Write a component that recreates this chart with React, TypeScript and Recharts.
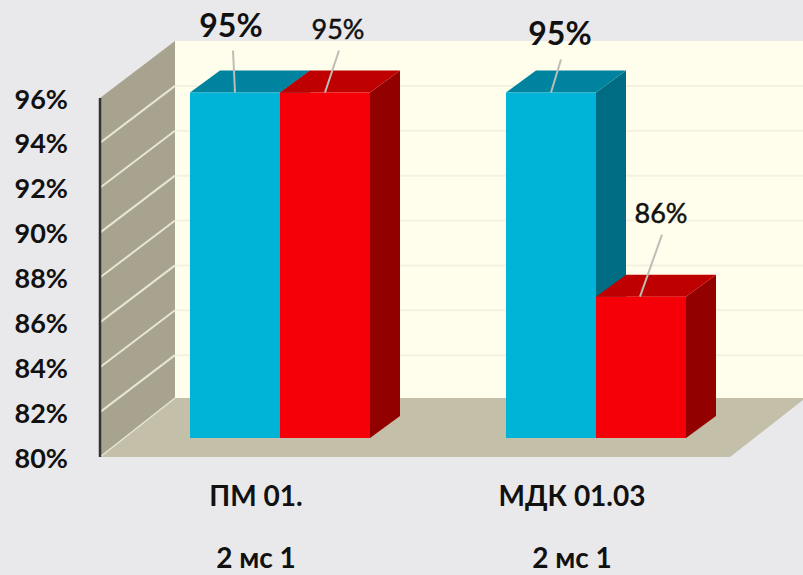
import { BarChart, Bar, XAxis, YAxis, CartesianGrid } from "recharts";

const categories = ["ПМ 01.", "МДК 01.03"];
const subLabels = ["2 мс 1", "2 мс 1"];
const blueValues = [95.4, 95.4];
const redValues = [95.4, 86.3];
const blueLabels = ["95%", "95%"];
const redLabels = ["95%", "86%"];
const yTicks = [80, 82, 84, 86, 88, 90, 92, 94, 96];

const data = categories.map((name, i) => ({ name, blue: blueValues[i], red: redValues[i] }));

const FONT = "Lato, Carlito, sans-serif";
const TEXT = "#111";

// fake 3D: back wall sits up and to the right of the axis plane, bars halfway
const WALL_DX = 75;
const WALL_DY = 57;
const BAR_LIFT = 19;
const BAR_DX = 30;
const BAR_DY = 22;

// label placement relative to the bar's front top centre
const blueLabelPos = [
  { tx: -4, ty: -55, x1: -2, y1: -42, x2: 0, y2: 0 },
  { tx: 9, ty: -47, x1: 10, y1: -33, x2: 0, y2: 0 },
];
const redLabelPos = [
  { tx: 13, ty: -53, x1: 14, y1: -42, x2: 0, y2: 0 },
  { tx: 20, ty: -74, x1: 21, y1: -62, x2: -1, y2: 0 },
];

function Walls() {
  return (
    <g>
      <polygon points="175,41 803,41 803,400 175,400" fill="#FFFEEC" />
      <polygon points="100,98 175,41 175,398 100,457" fill="#A8A38E" />
      <polygon points="100,457 175,398 803,398 803,400 730,457" fill="#C4BFA9" />
      <line x1={100} y1={457} x2={175} y2={398} stroke="#E8E4D4" strokeWidth={1.5} />
    </g>
  );
}

// one gridline = the slanted bit on the side wall + the flat bit on the back wall.
// the walls go in with the first line so they stay behind everything else
function GridLine(props: any) {
  const { x1, y1, index, key } = props;
  const backY = y1 - WALL_DY;
  const inner = y1 > 100 && y1 < 450;
  return (
    <g key={key}>
      {index === 0 && <Walls />}
      {inner && <line x1={x1} y1={y1} x2={x1 + WALL_DX} y2={backY} stroke="#E9E5D5" strokeWidth={2} />}
      {inner && <line x1={x1 + WALL_DX} y1={backY} x2={803} y2={backY} stroke="#F4F1E0" strokeWidth={2} />}
    </g>
  );
}

function Box3D(props: any, front: string, top: string, side: string) {
  const { x, y, width, height } = props;
  const fy = y - BAR_LIFT;
  const by = fy + height;
  const r = x + width;
  return (
    <g>
      <polygon points={`${r},${fy} ${r + BAR_DX},${fy - BAR_DY} ${r + BAR_DX},${by - BAR_DY} ${r},${by}`} fill={side} />
      <polygon points={`${x},${fy} ${x + BAR_DX},${fy - BAR_DY} ${r + BAR_DX},${fy - BAR_DY} ${r},${fy}`} fill={top} />
      <rect x={x} y={fy} width={width} height={height} fill={front} />
    </g>
  );
}

function makeLabel(texts: string[], pos: typeof blueLabelPos, size: number, weight: number, thicken = 0) {
  return (props: any) => {
    const { x, y, width, index } = props;
    const p = pos[index];
    const cx = x + width / 2;
    const fy = y - BAR_LIFT;
    return (
      <g>
        <line x1={cx + p.x1} y1={fy + p.y1} x2={cx + p.x2} y2={fy + p.y2} stroke="#BDBDB8" strokeWidth={2} />
        <text
          x={cx + p.tx}
          y={fy + p.ty}
          textAnchor="middle"
          fontFamily={FONT}
          fontSize={size}
          fontWeight={weight}
          fill={TEXT}
          stroke={thicken ? TEXT : "none"}
          strokeWidth={thicken}
        >
          {texts[index]}
        </text>
      </g>
    );
  };
}

function CategoryTick(props: any) {
  const { x, y, index, payload } = props;
  return (
    <g fontFamily={FONT} fontSize={28} fontWeight={700} fill={TEXT} textAnchor="middle">
      <text x={x - 24} y={y + 41}>{payload.value}</text>
      <text x={x - 24} y={y + 103}>{subLabels[index]}</text>
    </g>
  );
}

export default function App() {
  return (
    <div style={{ position: "absolute", left: 0, top: 0, width: 803, height: 575, background: "#E9E9EB", overflow: "hidden" }}>
      <BarChart
        width={803}
        height={575}
        data={data}
        margin={{ top: 98, right: 27, bottom: 0, left: 0 }}
        barSize={90}
        barGap={0}
      >
        <CartesianGrid vertical={false} horizontal={GridLine as any} />
        <XAxis
          dataKey="name"
          height={118}
          padding={{ left: 22, right: 22 }}
          axisLine={false}
          tickLine={false}
          interval={0}
          tick={CategoryTick}
        />
        <YAxis
          width={100}
          domain={[80, 96]}
          ticks={yTicks}
          interval={0}
          tickFormatter={(v) => `${v}%`}
          tickSize={0}
          tickMargin={32}
          axisLine={{ stroke: "#333", strokeWidth: 2.5 }}
          tick={{ fontFamily: FONT, fontSize: 27, fontWeight: 700, fill: TEXT, dy: 1 }}
        />
        <Bar
          dataKey="blue"
          isAnimationActive={false}
          shape={(p: any) => Box3D(p, "#00B4D8", "#00839F", "#006C83")}
          label={makeLabel(blueLabels, blueLabelPos, 32, 700)}
        />
        <Bar
          dataKey="red"
          isAnimationActive={false}
          shape={(p: any) => Box3D(p, "#F50008", "#BF0000", "#930000")}
          label={makeLabel(redLabels, redLabelPos, 27, 400, 0.5)}
        />
      </BarChart>
    </div>
  );
}
